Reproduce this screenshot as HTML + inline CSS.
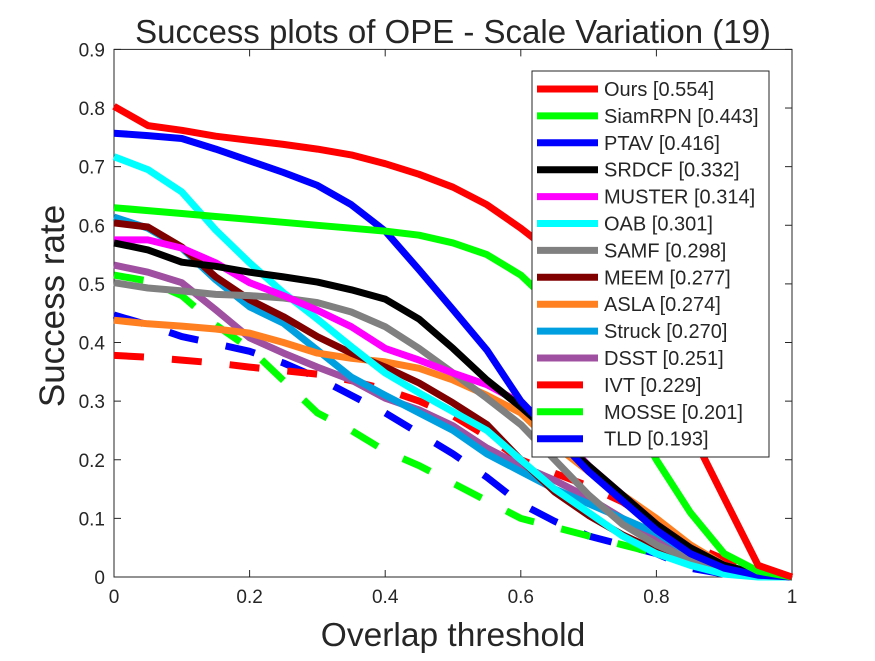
<!DOCTYPE html>
<html><head><meta charset="utf-8"><style>
body{margin:0;background:#fff;}
svg text{font-family:"Liberation Sans",Arial,sans-serif;fill:#262626;}
</style></head><body>
<svg id="chart" width="875" height="656" viewBox="0 0 875 656" xmlns="http://www.w3.org/2000/svg">
<rect width="875" height="656" fill="#fff"/>
<g id="plot"></g>
</svg>
<script>
const thresholds=[0,0.05,0.1,0.15,0.2,0.25,0.3,0.35,0.4,0.45,0.5,0.55,0.6,0.65,0.7,0.75,0.8,0.85,0.9,0.95,1];
const xTicks=[0,0.2,0.4,0.6,0.8,1];
const yTicks=[0,0.1,0.2,0.3,0.4,0.5,0.6,0.7,0.8,0.9];
const names=["Ours [0.554]","SiamRPN [0.443]","PTAV [0.416]","SRDCF [0.332]","MUSTER [0.314]","OAB [0.301]","SAMF [0.298]","MEEM [0.277]","ASLA [0.274]","Struck [0.270]","DSST [0.251]","IVT [0.229]","MOSSE [0.201]","TLD [0.193]"];
const colors=["#ff0000","#00ff00","#0000ff","#000000","#ff00ff","#00ffff","#808080","#800000","#ff8020","#00a0e0","#a050a0","#ff0000","#00ff00","#0000ff"];
const dashed=[false,false,false,false,false,false,false,false,false,false,false,true,true,true];
const sOurs=[0.803,0.77,0.762,0.752,0.745,0.738,0.73,0.72,0.705,0.687,0.665,0.635,0.595,0.55,0.5,0.44,0.36,0.25,0.135,0.02,0];
const sSiam=[0.63,0.625,0.62,0.615,0.61,0.605,0.6,0.595,0.59,0.583,0.57,0.55,0.515,0.46,0.39,0.3,0.2,0.11,0.04,0.01,0];
const sPTAV=[0.757,0.753,0.748,0.73,0.71,0.69,0.668,0.635,0.59,0.524,0.456,0.387,0.3,0.24,0.18,0.13,0.08,0.04,0.015,0.003,0];
const sSRDCF=[0.57,0.558,0.537,0.53,0.52,0.512,0.503,0.49,0.474,0.44,0.39,0.336,0.29,0.24,0.19,0.14,0.09,0.05,0.02,0.005,0];
const sMUSTER=[0.575,0.575,0.561,0.536,0.502,0.48,0.455,0.427,0.39,0.37,0.348,0.328,0.297,0.25,0.19,0.14,0.09,0.05,0.02,0.005,0];
const sOAB=[0.717,0.695,0.657,0.592,0.536,0.485,0.44,0.393,0.348,0.314,0.282,0.25,0.2,0.15,0.11,0.07,0.04,0.02,0.005,0,0];
const sSAMF=[0.502,0.493,0.488,0.482,0.48,0.476,0.468,0.452,0.427,0.39,0.348,0.305,0.26,0.2,0.14,0.09,0.055,0.03,0.01,0.002,0];
const sMEEM=[0.604,0.597,0.563,0.512,0.473,0.444,0.41,0.382,0.358,0.331,0.297,0.26,0.2,0.145,0.105,0.072,0.045,0.024,0.01,0.002,0];
const sASLA=[0.438,0.432,0.428,0.423,0.416,0.4,0.382,0.373,0.367,0.356,0.336,0.31,0.28,0.225,0.18,0.14,0.1,0.055,0.02,0.005,0];
const sStruck=[0.614,0.595,0.561,0.507,0.461,0.433,0.387,0.341,0.31,0.28,0.25,0.21,0.18,0.15,0.125,0.1,0.075,0.04,0.015,0.003,0];
const sDSST=[0.532,0.52,0.502,0.456,0.408,0.382,0.358,0.336,0.305,0.285,0.258,0.22,0.19,0.165,0.135,0.1,0.065,0.035,0.012,0.003,0];
const sIVT=[0.378,0.375,0.37,0.365,0.358,0.352,0.346,0.335,0.32,0.3,0.275,0.24,0.2,0.177,0.155,0.128,0.09,0.055,0.03,0.008,0];
const sMOSSE=[0.515,0.505,0.48,0.43,0.39,0.335,0.28,0.25,0.215,0.19,0.16,0.13,0.1,0.085,0.07,0.055,0.04,0.03,0.015,0.005,0];
const sTLD=[0.447,0.43,0.41,0.398,0.385,0.365,0.34,0.31,0.28,0.245,0.21,0.17,0.125,0.095,0.07,0.055,0.04,0.015,0.005,0.002,0];
const series=[sOurs,sSiam,sPTAV,sSRDCF,sMUSTER,sOAB,sSAMF,sMEEM,sASLA,sStruck,sDSST,sIVT,sMOSSE,sTLD];

const X0=114,X1=792,Y0=577,Y1=49.4;
function xs(v){return X0+(X1-X0)*v;}
function ys(v){return Y0-(Y0-Y1)*v/0.9;}
const NS="http://www.w3.org/2000/svg";
const g=document.getElementById('plot');
function mk(tag,attrs,parent){const e=document.createElementNS(NS,tag);for(const k in attrs)e.setAttribute(k,attrs[k]);(parent||g).appendChild(e);return e;}

const box=mk('rect',{x:X0,y:Y1,width:X1-X0,height:Y0-Y1,fill:'none',stroke:'#262626','stroke-width':1});


xTicks.forEach(t=>{
  const x=xs(t);
  mk('line',{x1:x,y1:Y0,x2:x,y2:Y0-7,stroke:'#262626'});
  mk('line',{x1:x,y1:Y1,x2:x,y2:Y1+7,stroke:'#262626'});
  const tx=mk('text',{x:x,y:Y0+26,'text-anchor':'middle','font-size':19});
  tx.textContent=String(t);
  
  
});
yTicks.forEach(t=>{
  const y=ys(t);
  mk('line',{x1:X0,y1:y,x2:X0+7,y2:y,stroke:'#262626'});
  mk('line',{x1:X1,y1:y,x2:X1-7,y2:y,stroke:'#262626'});
  const tx=mk('text',{x:X0-9,y:y+7,'text-anchor':'end','font-size':19});
  tx.textContent=String(t);
  
  
});

for(let i=series.length-1;i>=0;i--){
  const d=series[i].map((v,j)=>(j?'L':'M')+xs(thresholds[j]).toFixed(1)+','+ys(v).toFixed(1)).join('');
  const p=mk('path',{d:d,fill:'none',stroke:colors[i],'stroke-width':7,'stroke-linejoin':'round'});
  if(dashed[i])p.setAttribute('stroke-dasharray','30,28');
  
  
}

const lg=mk('g',{});


mk('rect',{x:532,y:71,width:237,height:386,fill:'#fff',stroke:'#262626','stroke-width':1},lg);
names.forEach((n,i)=>{
  const y=89+i*26.9;
  const l=mk('line',{x1:537,y1:y,x2:dashed[i]?583:598,y2:y,stroke:colors[i],'stroke-width':7},lg);
  
  
  const t=mk('text',{x:604,y:y+7,'font-size':20,fill:'#000'},lg);
  t.textContent=n;
  
  
});

const title=mk('text',{x:453,y:43,'text-anchor':'middle','font-size':33,fill:'#000'});
title.textContent='Success plots of OPE - Scale Variation (19)';


const xl=mk('text',{x:453,y:646,'text-anchor':'middle','font-size':33.5});
xl.textContent='Overlap threshold';


const yl=mk('text',{x:0,y:0,'text-anchor':'middle','font-size':35,transform:'translate(64,306) rotate(-90)'});
yl.textContent='Success rate';


</script>
</body></html>
